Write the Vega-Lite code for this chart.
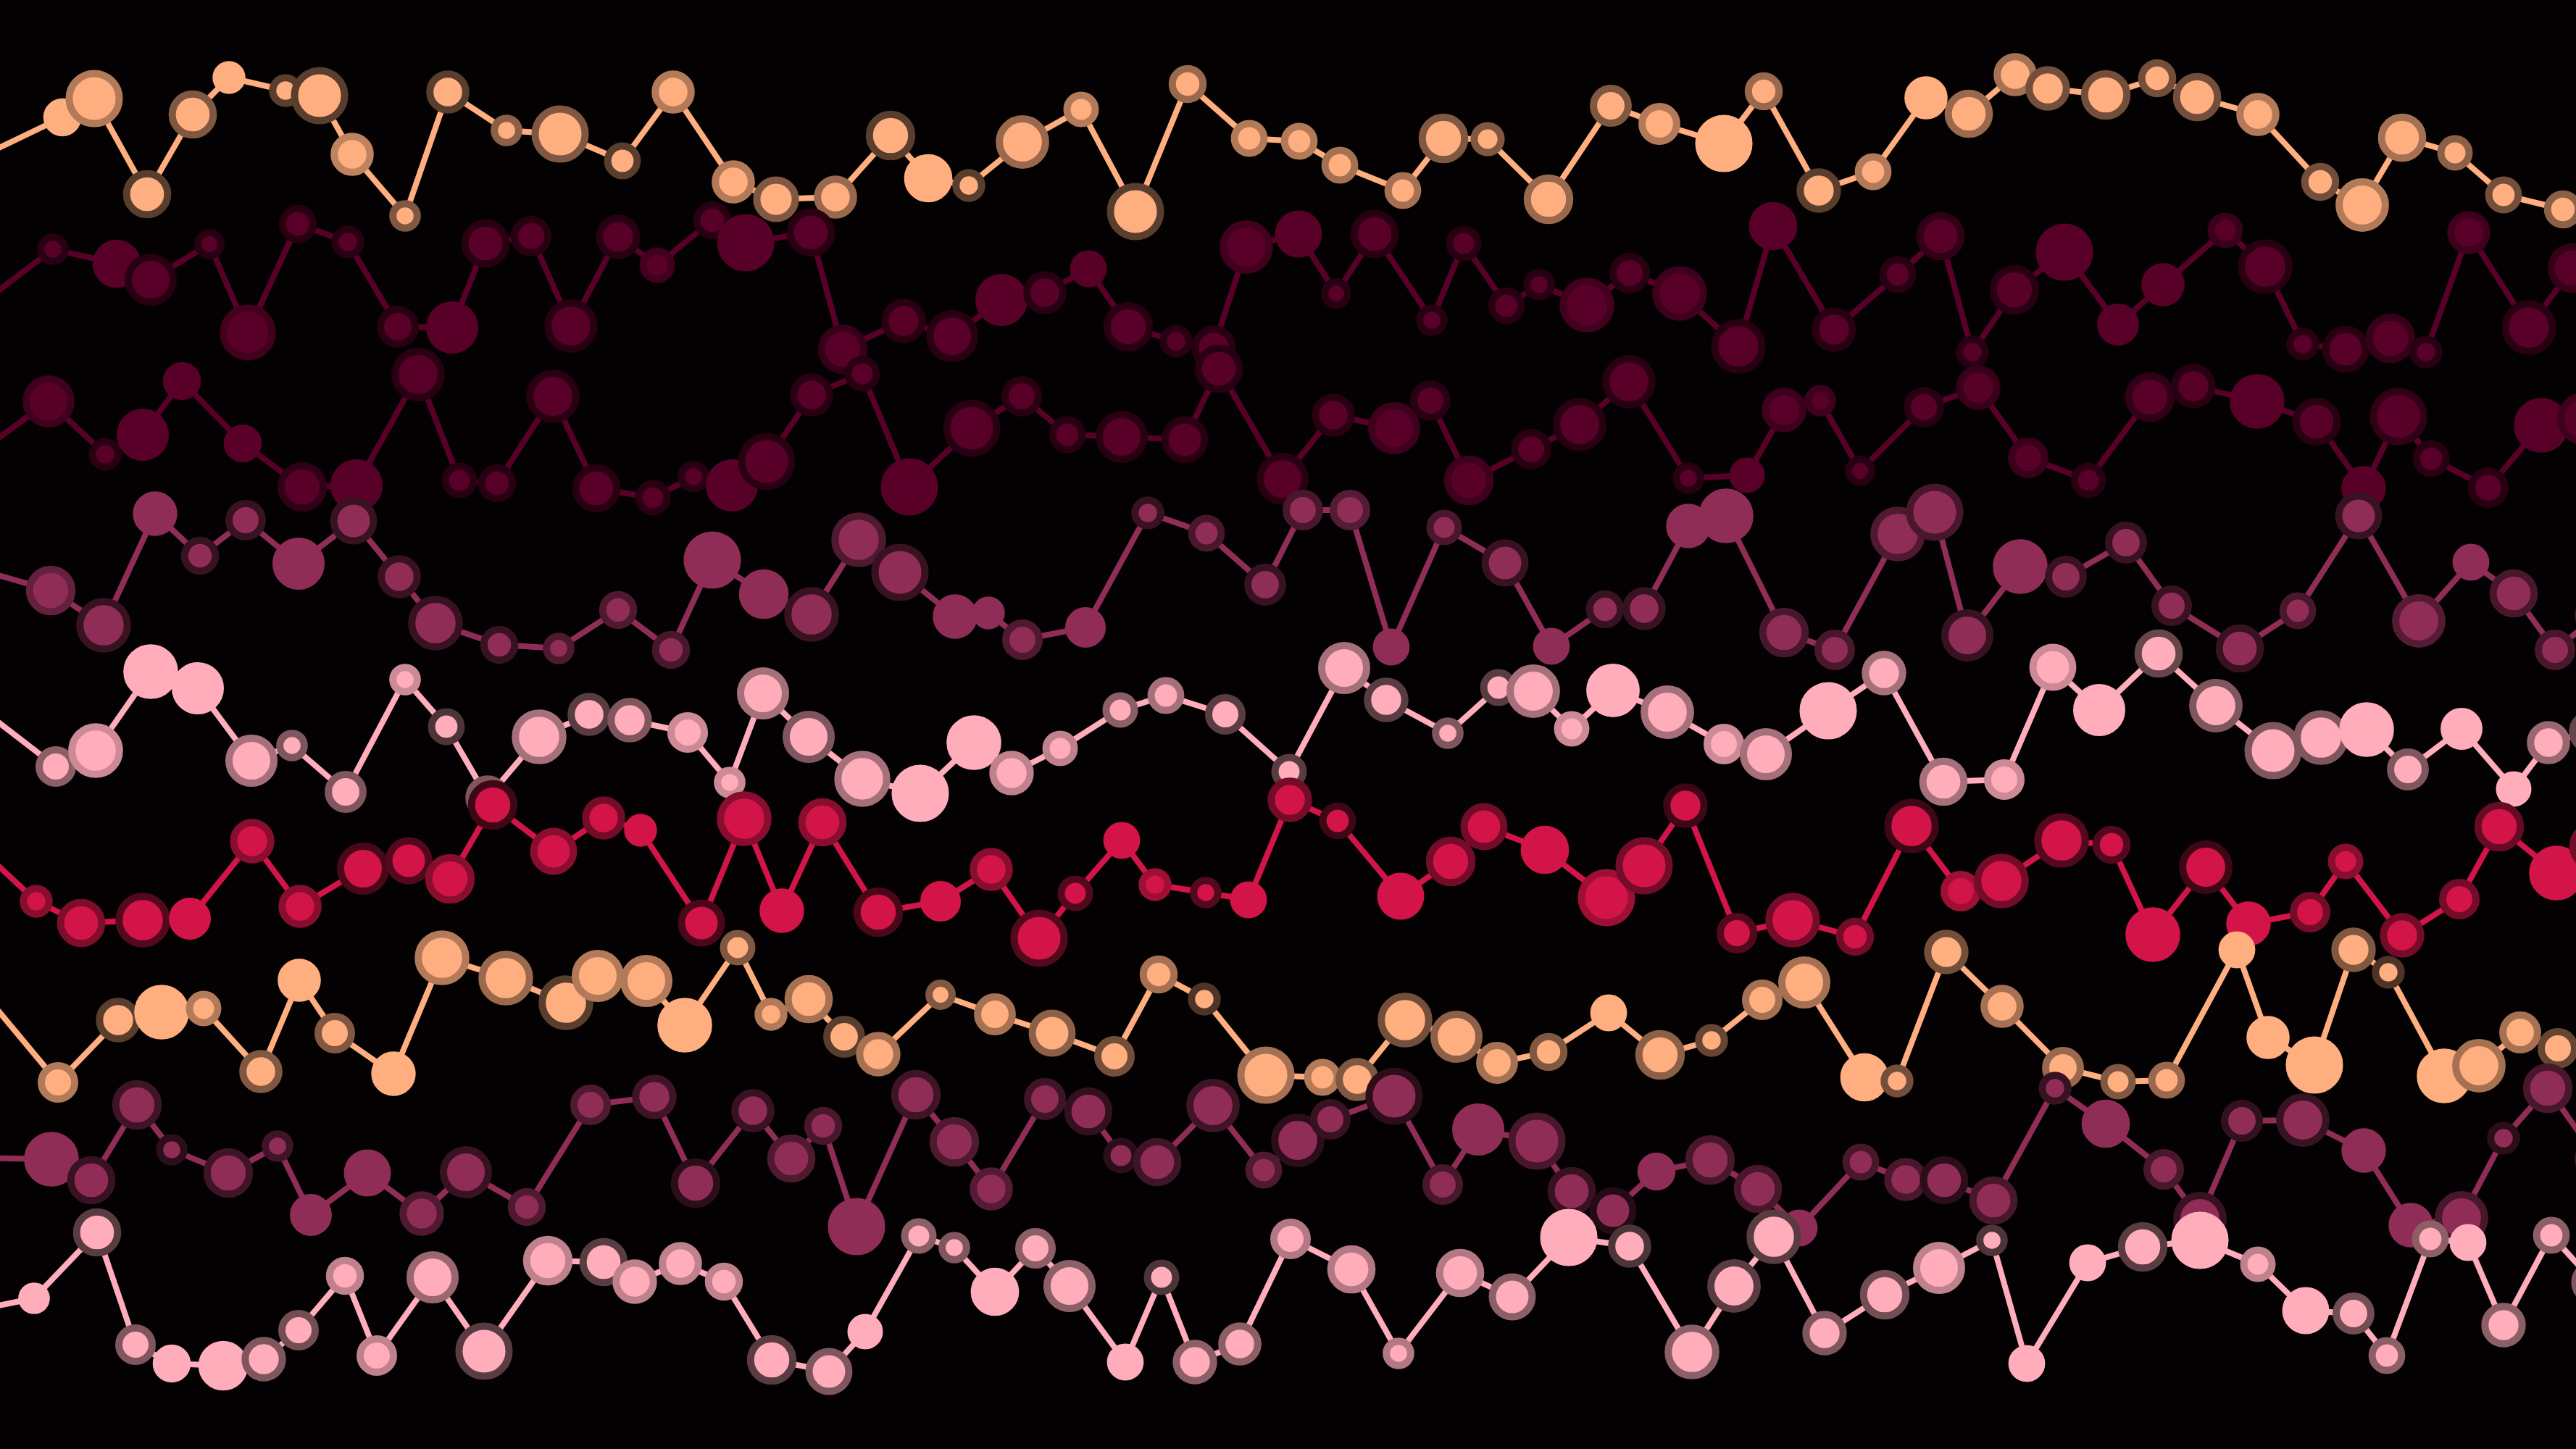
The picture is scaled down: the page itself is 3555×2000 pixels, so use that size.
{
"$schema":"https://vega.github.io/schema/vega-lite/v6.json",
"width":3555,"height":2000,"padding":0,
"autosize":{"type":"none"},
"background":"#030102",
"config":{"view":{"stroke":null}},
"data":{"values":[
{"s":1,"x":-45,"y":225,"r":30,"k":0},{"s":1,"x":86,"y":162,"r":24,"k":0},{"s":1,"x":130,"y":136,"r":39,"k":0.3},{"s":1,"x":203,"y":268,"r":32,"k":0.65},{"s":1,"x":266,"y":158,"r":32,"k":0.5},{"s":1,"x":316,"y":107,"r":20,"k":0},{"s":1,"x":394,"y":125,"r":20,"k":0.65},{"s":1,"x":441,"y":132,"r":39,"k":0.65},{"s":1,"x":486,"y":213,"r":28,"k":0.25},{"s":1,"x":559,"y":298,"r":19,"k":0.5},{"s":1,"x":618,"y":127,"r":28,"k":0.65},{"s":1,"x":699,"y":180,"r":19,"k":0.45},{"s":1,"x":773,"y":185,"r":39,"k":0.5},{"s":1,"x":859,"y":222,"r":23,"k":0.65},{"s":1,"x":929,"y":127,"r":28,"k":0.3},{"s":1,"x":1012,"y":251,"r":28,"k":0.3},{"s":1,"x":1071,"y":275,"r":30,"k":0.5},{"s":1,"x":1153,"y":272,"r":28,"k":0.4},{"s":1,"x":1229,"y":187,"r":33,"k":0.65},{"s":1,"x":1281,"y":246,"r":32,"k":0},{"s":1,"x":1337,"y":256,"r":20,"k":0.65},{"s":1,"x":1411,"y":196,"r":36,"k":0.4},{"s":1,"x":1492,"y":151,"r":22,"k":0.3},{"s":1,"x":1567,"y":292,"r":39,"k":0.65},{"s":1,"x":1639,"y":116,"r":24,"k":0.4},{"s":1,"x":1724,"y":191,"r":23,"k":0.3},{"s":1,"x":1793,"y":195,"r":23,"k":0.3},{"s":1,"x":1849,"y":228,"r":23,"k":0.35},{"s":1,"x":1936,"y":263,"r":23,"k":0.35},{"s":1,"x":1992,"y":191,"r":33,"k":0.5},{"s":1,"x":2053,"y":192,"r":21,"k":0.5},{"s":1,"x":2137,"y":275,"r":33,"k":0.4},{"s":1,"x":2223,"y":146,"r":27,"k":0.5},{"s":1,"x":2290,"y":171,"r":27,"k":0.3},{"s":1,"x":2379,"y":198,"r":39,"k":0},{"s":1,"x":2434,"y":126,"r":24,"k":0.4},{"s":1,"x":2510,"y":263,"r":29,"k":0.65},{"s":1,"x":2585,"y":237,"r":23,"k":0.3},{"s":1,"x":2658,"y":135,"r":28,"k":0},{"s":1,"x":2717,"y":157,"r":32,"k":0.4},{"s":1,"x":2781,"y":103,"r":28,"k":0.35},{"s":1,"x":2826,"y":122,"r":29,"k":0.55},{"s":1,"x":2906,"y":131,"r":33,"k":0.55},{"s":1,"x":2977,"y":108,"r":24,"k":0.55},{"s":1,"x":3032,"y":134,"r":32,"k":0.55},{"s":1,"x":3116,"y":158,"r":28,"k":0.3},{"s":1,"x":3202,"y":251,"r":24,"k":0.55},{"s":1,"x":3260,"y":283,"r":36,"k":0.3},{"s":1,"x":3315,"y":190,"r":32,"k":0.35},{"s":1,"x":3388,"y":211,"r":22,"k":0.45},{"s":1,"x":3455,"y":269,"r":23,"k":0.55},{"s":1,"x":3537,"y":289,"r":24,"k":0.45},
{"s":2,"x":-40,"y":430,"r":30,"k":0},{"s":2,"x":73,"y":344,"r":19,"k":0.55},{"s":2,"x":161,"y":364,"r":32,"k":0},{"s":2,"x":208,"y":386,"r":35,"k":0.55},{"s":2,"x":289,"y":337,"r":18,"k":0.55},{"s":2,"x":342,"y":459,"r":38,"k":0.25},{"s":2,"x":411,"y":309,"r":24,"k":0.55},{"s":2,"x":480,"y":334,"r":20,"k":0.55},{"s":2,"x":549,"y":451,"r":27,"k":0.55},{"s":2,"x":624,"y":452,"r":35,"k":0},{"s":2,"x":670,"y":336,"r":32,"k":0.55},{"s":2,"x":733,"y":326,"r":26,"k":0.55},{"s":2,"x":788,"y":450,"r":36,"k":0.55},{"s":2,"x":853,"y":327,"r":29,"k":0.55},{"s":2,"x":907,"y":366,"r":22,"k":0.25},{"s":2,"x":983,"y":304,"r":24,"k":0.55},{"s":2,"x":1029,"y":335,"r":39,"k":0},{"s":2,"x":1119,"y":321,"r":32,"k":0.55},{"s":2,"x":1163,"y":482,"r":33,"k":0.4},{"s":2,"x":1247,"y":443,"r":29,"k":0.55},{"s":2,"x":1314,"y":464,"r":35,"k":0.55},{"s":2,"x":1382,"y":414,"r":35,"k":0},{"s":2,"x":1442,"y":404,"r":28,"k":0.55},{"s":2,"x":1502,"y":371,"r":23,"k":0},{"s":2,"x":1557,"y":451,"r":33,"k":0.55},{"s":2,"x":1623,"y":471,"r":20,"k":0.55},{"s":2,"x":1675,"y":480,"r":29,"k":0.55},{"s":2,"x":1720,"y":341,"r":36,"k":0.25},{"s":2,"x":1792,"y":323,"r":31,"k":0},{"s":2,"x":1844,"y":405,"r":18,"k":0.55},{"s":2,"x":1897,"y":323,"r":32,"k":0.55},{"s":2,"x":1976,"y":442,"r":19,"k":0.55},{"s":2,"x":2020,"y":336,"r":22,"k":0.55},{"s":2,"x":2079,"y":422,"r":23,"k":0.55},{"s":2,"x":2124,"y":393,"r":19,"k":0.55},{"s":2,"x":2190,"y":421,"r":37,"k":0.25},{"s":2,"x":2249,"y":377,"r":26,"k":0.55},{"s":2,"x":2318,"y":405,"r":37,"k":0.3},{"s":2,"x":2399,"y":478,"r":37,"k":0.55},{"s":2,"x":2447,"y":312,"r":32,"k":0},{"s":2,"x":2531,"y":455,"r":29,"k":0.55},{"s":2,"x":2619,"y":379,"r":23,"k":0.55},{"s":2,"x":2678,"y":326,"r":32,"k":0.45},{"s":2,"x":2722,"y":486,"r":20,"k":0.55},{"s":2,"x":2780,"y":400,"r":33,"k":0.55},{"s":2,"x":2849,"y":348,"r":39,"k":0},{"s":2,"x":2923,"y":448,"r":27,"k":0},{"s":2,"x":2985,"y":393,"r":28,"k":0},{"s":2,"x":3071,"y":318,"r":22,"k":0.35},{"s":2,"x":3126,"y":368,"r":37,"k":0.55},{"s":2,"x":3178,"y":475,"r":20,"k":0.55},{"s":2,"x":3237,"y":482,"r":31,"k":0.55},{"s":2,"x":3299,"y":467,"r":33,"k":0.4},{"s":2,"x":3348,"y":486,"r":20,"k":0.55},{"s":2,"x":3407,"y":321,"r":28,"k":0.3},{"s":2,"x":3490,"y":452,"r":37,"k":0.55},{"s":2,"x":3550,"y":370,"r":33,"k":0.4},
{"s":3,"x":-50,"y":640,"r":30,"k":0},{"s":3,"x":67,"y":554,"r":35,"k":0.3},{"s":3,"x":145,"y":627,"r":20,"k":0.55},{"s":3,"x":197,"y":600,"r":35,"k":0},{"s":3,"x":251,"y":526,"r":24,"k":0},{"s":3,"x":335,"y":612,"r":24,"k":0},{"s":3,"x":417,"y":672,"r":33,"k":0.45},{"s":3,"x":492,"y":670,"r":35,"k":0},{"s":3,"x":577,"y":517,"r":36,"k":0.55},{"s":3,"x":634,"y":663,"r":22,"k":0.55},{"s":3,"x":686,"y":667,"r":24,"k":0.55},{"s":3,"x":763,"y":547,"r":36,"k":0.55},{"s":3,"x":823,"y":674,"r":32,"k":0.55},{"s":3,"x":901,"y":687,"r":22,"k":0.55},{"s":3,"x":957,"y":658,"r":19,"k":0.55},{"s":3,"x":1010,"y":670,"r":35,"k":0},{"s":3,"x":1058,"y":637,"r":39,"k":0.55},{"s":3,"x":1120,"y":545,"r":28,"k":0.55},{"s":3,"x":1190,"y":516,"r":22,"k":0.55},{"s":3,"x":1255,"y":672,"r":39,"k":0},{"s":3,"x":1341,"y":591,"r":39,"k":0.55},{"s":3,"x":1410,"y":547,"r":26,"k":0.55},{"s":3,"x":1473,"y":600,"r":23,"k":0.55},{"s":3,"x":1548,"y":603,"r":35,"k":0.55},{"s":3,"x":1635,"y":607,"r":31,"k":0.55},{"s":3,"x":1682,"y":509,"r":32,"k":0.55},{"s":3,"x":1770,"y":661,"r":35,"k":0.55},{"s":3,"x":1840,"y":573,"r":28,"k":0.55},{"s":3,"x":1924,"y":591,"r":35,"k":0.3},{"s":3,"x":1974,"y":553,"r":26,"k":0.55},{"s":3,"x":2027,"y":663,"r":33,"k":0.3},{"s":3,"x":2113,"y":620,"r":26,"k":0.55},{"s":3,"x":2180,"y":586,"r":36,"k":0.55},{"s":3,"x":2248,"y":527,"r":36,"k":0.55},{"s":3,"x":2330,"y":660,"r":19,"k":0.55},{"s":3,"x":2411,"y":656,"r":22,"k":0},{"s":3,"x":2462,"y":566,"r":29,"k":0.3},{"s":3,"x":2512,"y":553,"r":19,"k":0.3},{"s":3,"x":2567,"y":650,"r":18,"k":0.55},{"s":3,"x":2655,"y":562,"r":26,"k":0.55},{"s":3,"x":2730,"y":535,"r":29,"k":0.35},{"s":3,"x":2799,"y":632,"r":26,"k":0.35},{"s":3,"x":2882,"y":663,"r":22,"k":0.55},{"s":3,"x":2967,"y":548,"r":33,"k":0.45},{"s":3,"x":3027,"y":533,"r":29,"k":0.55},{"s":3,"x":3115,"y":554,"r":37,"k":0},{"s":3,"x":3197,"y":582,"r":32,"k":0.55},{"s":3,"x":3262,"y":674,"r":29,"k":0},{"s":3,"x":3310,"y":575,"r":39,"k":0.45},{"s":3,"x":3355,"y":633,"r":23,"k":0.55},{"s":3,"x":3434,"y":673,"r":26,"k":0.55},{"s":3,"x":3507,"y":587,"r":37,"k":0},{"s":3,"x":3565,"y":578,"r":35,"k":0.3},
{"s":4,"x":-50,"y":780,"r":30,"k":0},{"s":4,"x":70,"y":815,"r":33,"k":0.3},{"s":4,"x":143,"y":863,"r":37,"k":0.6},{"s":4,"x":214,"y":709,"r":29,"k":0},{"s":4,"x":276,"y":767,"r":24,"k":0.6},{"s":4,"x":339,"y":718,"r":26,"k":0.6},{"s":4,"x":412,"y":778,"r":35,"k":0},{"s":4,"x":488,"y":719,"r":31,"k":0.6},{"s":4,"x":551,"y":796,"r":28,"k":0.6},{"s":4,"x":601,"y":860,"r":37,"k":0.6},{"s":4,"x":689,"y":890,"r":24,"k":0.6},{"s":4,"x":771,"y":895,"r":19,"k":0.45},{"s":4,"x":853,"y":842,"r":24,"k":0.45},{"s":4,"x":926,"y":897,"r":24,"k":0.5},{"s":4,"x":983,"y":773,"r":39,"k":0},{"s":4,"x":1054,"y":820,"r":33,"k":0},{"s":4,"x":1120,"y":848,"r":37,"k":0.6},{"s":4,"x":1185,"y":745,"r":37,"k":0.45},{"s":4,"x":1242,"y":790,"r":39,"k":0.6},{"s":4,"x":1318,"y":851,"r":29,"k":0},{"s":4,"x":1364,"y":846,"r":20,"k":0},{"s":4,"x":1411,"y":883,"r":26,"k":0.45},{"s":4,"x":1498,"y":866,"r":26,"k":0},{"s":4,"x":1584,"y":708,"r":20,"k":0.6},{"s":4,"x":1665,"y":736,"r":23,"k":0.5},{"s":4,"x":1746,"y":807,"r":27,"k":0.6},{"s":4,"x":1798,"y":704,"r":26,"k":0.5},{"s":4,"x":1863,"y":704,"r":26,"k":0.4},{"s":4,"x":1920,"y":893,"r":23,"k":0},{"s":4,"x":1993,"y":728,"r":22,"k":0.5},{"s":4,"x":2077,"y":777,"r":31,"k":0.6},{"s":4,"x":2141,"y":892,"r":23,"k":0},{"s":4,"x":2215,"y":841,"r":24,"k":0.6},{"s":4,"x":2269,"y":840,"r":28,"k":0.6},{"s":4,"x":2330,"y":726,"r":29,"k":0},{"s":4,"x":2382,"y":712,"r":37,"k":0},{"s":4,"x":2462,"y":873,"r":33,"k":0.5},{"s":4,"x":2532,"y":897,"r":26,"k":0.5},{"s":4,"x":2619,"y":737,"r":37,"k":0.45},{"s":4,"x":2670,"y":707,"r":39,"k":0.5},{"s":4,"x":2715,"y":877,"r":35,"k":0.6},{"s":4,"x":2788,"y":782,"r":37,"k":0},{"s":4,"x":2851,"y":796,"r":27,"k":0.6},{"s":4,"x":2934,"y":749,"r":27,"k":0.6},{"s":4,"x":2997,"y":836,"r":26,"k":0.6},{"s":4,"x":3091,"y":895,"r":32,"k":0.6},{"s":4,"x":3171,"y":843,"r":23,"k":0.5},{"s":4,"x":3255,"y":712,"r":31,"k":0.6},{"s":4,"x":3338,"y":857,"r":36,"k":0.4},{"s":4,"x":3410,"y":776,"r":23,"k":0},{"s":4,"x":3469,"y":819,"r":32,"k":0.5},{"s":4,"x":3526,"y":897,"r":26,"k":0.5},{"s":4,"x":3585,"y":850,"r":30,"k":0.5},
{"s":5,"x":-50,"y":960,"r":30,"k":0},{"s":5,"x":77,"y":1058,"r":26,"k":0.45},{"s":5,"x":132,"y":1036,"r":37,"k":0.2},{"s":5,"x":208,"y":927,"r":37,"k":0},{"s":5,"x":273,"y":950,"r":35,"k":0},{"s":5,"x":347,"y":1050,"r":35,"k":0.35},{"s":5,"x":403,"y":1029,"r":19,"k":0.5},{"s":5,"x":477,"y":1093,"r":27,"k":0.5},{"s":5,"x":559,"y":938,"r":19,"k":0.2},{"s":5,"x":616,"y":1003,"r":23,"k":0.7},{"s":5,"x":673,"y":1101,"r":29,"k":0.5},{"s":5,"x":744,"y":1017,"r":37,"k":0.35},{"s":5,"x":813,"y":986,"r":28,"k":0.65},{"s":5,"x":869,"y":994,"r":29,"k":0.5},{"s":5,"x":949,"y":1011,"r":26,"k":0.2},{"s":5,"x":1007,"y":1080,"r":19,"k":0.2},{"s":5,"x":1053,"y":957,"r":35,"k":0.35},{"s":5,"x":1116,"y":1017,"r":35,"k":0.5},{"s":5,"x":1190,"y":1075,"r":38,"k":0.35},{"s":5,"x":1270,"y":1095,"r":39,"k":0},{"s":5,"x":1344,"y":1025,"r":37,"k":0},{"s":5,"x":1396,"y":1067,"r":29,"k":0.25},{"s":5,"x":1463,"y":1033,"r":22,"k":0.25},{"s":5,"x":1546,"y":980,"r":22,"k":0.45},{"s":5,"x":1609,"y":960,"r":23,"k":0.35},{"s":5,"x":1691,"y":986,"r":26,"k":0.65},{"s":5,"x":1779,"y":1065,"r":22,"k":0.65},{"s":5,"x":1855,"y":922,"r":35,"k":0.35},{"s":5,"x":1913,"y":966,"r":29,"k":0.65},{"s":5,"x":1998,"y":1012,"r":19,"k":0.5},{"s":5,"x":2068,"y":949,"r":23,"k":0.65},{"s":5,"x":2116,"y":954,"r":36,"k":0.35},{"s":5,"x":2169,"y":1006,"r":22,"k":0.2},{"s":5,"x":2226,"y":953,"r":36,"k":0},{"s":5,"x":2301,"y":983,"r":36,"k":0.35},{"s":5,"x":2379,"y":1027,"r":26,"k":0.2},{"s":5,"x":2437,"y":1041,"r":35,"k":0.35},{"s":5,"x":2523,"y":981,"r":39,"k":0},{"s":5,"x":2600,"y":929,"r":29,"k":0.35},{"s":5,"x":2682,"y":1079,"r":32,"k":0.35},{"s":5,"x":2766,"y":1076,"r":26,"k":0.2},{"s":5,"x":2833,"y":921,"r":31,"k":0.2},{"s":5,"x":2897,"y":980,"r":35,"k":0},{"s":5,"x":2979,"y":902,"r":32,"k":0.6},{"s":5,"x":3058,"y":974,"r":36,"k":0.5},{"s":5,"x":3137,"y":1036,"r":39,"k":0.5},{"s":5,"x":3203,"y":1018,"r":37,"k":0.5},{"s":5,"x":3266,"y":1007,"r":37,"k":0},{"s":5,"x":3323,"y":1062,"r":27,"k":0.5},{"s":5,"x":3397,"y":1006,"r":27,"k":0},{"s":5,"x":3469,"y":1089,"r":22,"k":0},{"s":5,"x":3517,"y":1025,"r":28,"k":0.4},{"s":5,"x":3575,"y":1010,"r":28,"k":0.6},
{"s":6,"x":-40,"y":1160,"r":30,"k":0},{"s":6,"x":50,"y":1244,"r":20,"k":0.35},{"s":6,"x":112,"y":1274,"r":32,"k":0.4},{"s":6,"x":197,"y":1270,"r":37,"k":0.6},{"s":6,"x":262,"y":1268,"r":27,"k":0},{"s":6,"x":348,"y":1161,"r":29,"k":0.35},{"s":6,"x":414,"y":1251,"r":28,"k":0.35},{"s":6,"x":501,"y":1199,"r":35,"k":0.65},{"s":6,"x":564,"y":1188,"r":31,"k":0.6},{"s":6,"x":621,"y":1213,"r":33,"k":0.35},{"s":6,"x":680,"y":1111,"r":33,"k":0.7},{"s":6,"x":764,"y":1175,"r":31,"k":0.35},{"s":6,"x":833,"y":1129,"r":28,"k":0.45},{"s":6,"x":884,"y":1146,"r":20,"k":0},{"s":6,"x":968,"y":1274,"r":31,"k":0.65},{"s":6,"x":1027,"y":1130,"r":37,"k":0.35},{"s":6,"x":1079,"y":1257,"r":29,"k":0},{"s":6,"x":1135,"y":1135,"r":32,"k":0.35},{"s":6,"x":1212,"y":1259,"r":33,"k":0.65},{"s":6,"x":1298,"y":1244,"r":26,"k":0},{"s":6,"x":1368,"y":1200,"r":28,"k":0.35},{"s":6,"x":1434,"y":1295,"r":39,"k":0.6},{"s":6,"x":1484,"y":1233,"r":22,"k":0.6},{"s":6,"x":1548,"y":1160,"r":23,"k":0},{"s":6,"x":1594,"y":1221,"r":20,"k":0.25},{"s":6,"x":1664,"y":1232,"r":19,"k":0.6},{"s":6,"x":1723,"y":1242,"r":23,"k":0},{"s":6,"x":1780,"y":1104,"r":29,"k":0.45},{"s":6,"x":1846,"y":1133,"r":23,"k":0.7},{"s":6,"x":1933,"y":1237,"r":31,"k":0},{"s":6,"x":2002,"y":1189,"r":33,"k":0.45},{"s":6,"x":2048,"y":1141,"r":31,"k":0.45},{"s":6,"x":2132,"y":1173,"r":32,"k":0},{"s":6,"x":2217,"y":1239,"r":39,"k":0.25},{"s":6,"x":2269,"y":1195,"r":39,"k":0.45},{"s":6,"x":2326,"y":1112,"r":29,"k":0.7},{"s":6,"x":2397,"y":1288,"r":26,"k":0.6},{"s":6,"x":2474,"y":1270,"r":37,"k":0.45},{"s":6,"x":2560,"y":1293,"r":24,"k":0.45},{"s":6,"x":2638,"y":1140,"r":37,"k":0.7},{"s":6,"x":2706,"y":1230,"r":26,"k":0.25},{"s":6,"x":2762,"y":1216,"r":37,"k":0.45},{"s":6,"x":2845,"y":1160,"r":37,"k":0.6},{"s":6,"x":2914,"y":1166,"r":24,"k":0.6},{"s":6,"x":2971,"y":1290,"r":37,"k":0},{"s":6,"x":3044,"y":1197,"r":36,"k":0.7},{"s":6,"x":3103,"y":1275,"r":29,"k":0},{"s":6,"x":3188,"y":1259,"r":26,"k":0.45},{"s":6,"x":3237,"y":1189,"r":22,"k":0.35},{"s":6,"x":3315,"y":1291,"r":29,"k":0.45},{"s":6,"x":3394,"y":1241,"r":26,"k":0.45},{"s":6,"x":3449,"y":1141,"r":33,"k":0.5},{"s":6,"x":3528,"y":1205,"r":37,"k":0},{"s":6,"x":3580,"y":1168,"r":33,"k":0.45},
{"s":7,"x":-40,"y":1350,"r":30,"k":0},{"s":7,"x":80,"y":1494,"r":26,"k":0.3},{"s":7,"x":163,"y":1408,"r":29,"k":0.65},{"s":7,"x":223,"y":1397,"r":37,"k":0},{"s":7,"x":281,"y":1392,"r":22,"k":0.3},{"s":7,"x":360,"y":1479,"r":28,"k":0.5},{"s":7,"x":413,"y":1353,"r":28,"k":0},{"s":7,"x":462,"y":1426,"r":26,"k":0.5},{"s":7,"x":543,"y":1482,"r":29,"k":0},{"s":7,"x":610,"y":1322,"r":37,"k":0.3},{"s":7,"x":698,"y":1350,"r":37,"k":0.4},{"s":7,"x":781,"y":1384,"r":37,"k":0.65},{"s":7,"x":825,"y":1347,"r":35,"k":0.3},{"s":7,"x":892,"y":1354,"r":35,"k":0.3},{"s":7,"x":945,"y":1415,"r":37,"k":0},{"s":7,"x":1018,"y":1308,"r":22,"k":0.5},{"s":7,"x":1064,"y":1400,"r":20,"k":0.3},{"s":7,"x":1116,"y":1379,"r":32,"k":0.35},{"s":7,"x":1165,"y":1431,"r":27,"k":0.65},{"s":7,"x":1212,"y":1455,"r":29,"k":0.35},{"s":7,"x":1298,"y":1373,"r":18,"k":0.5},{"s":7,"x":1373,"y":1400,"r":27,"k":0.35},{"s":7,"x":1452,"y":1426,"r":31,"k":0.45},{"s":7,"x":1538,"y":1458,"r":26,"k":0.55},{"s":7,"x":1599,"y":1345,"r":24,"k":0.35},{"s":7,"x":1662,"y":1379,"r":20,"k":0.7},{"s":7,"x":1747,"y":1484,"r":39,"k":0.35},{"s":7,"x":1825,"y":1487,"r":23,"k":0.3},{"s":7,"x":1873,"y":1490,"r":28,"k":0.5},{"s":7,"x":1939,"y":1408,"r":37,"k":0.55},{"s":7,"x":2010,"y":1431,"r":35,"k":0.45},{"s":7,"x":2066,"y":1467,"r":27,"k":0.35},{"s":7,"x":2137,"y":1452,"r":24,"k":0.5},{"s":7,"x":2220,"y":1398,"r":23,"k":0},{"s":7,"x":2291,"y":1456,"r":33,"k":0.45},{"s":7,"x":2362,"y":1436,"r":20,"k":0.6},{"s":7,"x":2432,"y":1380,"r":26,"k":0.35},{"s":7,"x":2490,"y":1356,"r":35,"k":0.35},{"s":7,"x":2573,"y":1487,"r":32,"k":0},{"s":7,"x":2618,"y":1492,"r":20,"k":0.55},{"s":7,"x":2686,"y":1314,"r":29,"k":0.55},{"s":7,"x":2763,"y":1389,"r":28,"k":0.35},{"s":7,"x":2847,"y":1474,"r":27,"k":0.4},{"s":7,"x":2923,"y":1493,"r":22,"k":0.5},{"s":7,"x":2990,"y":1491,"r":23,"k":0.4},{"s":7,"x":3087,"y":1311,"r":23,"k":0},{"s":7,"x":3130,"y":1432,"r":28,"k":0},{"s":7,"x":3194,"y":1470,"r":39,"k":0},{"s":7,"x":3248,"y":1311,"r":29,"k":0.5},{"s":7,"x":3296,"y":1342,"r":20,"k":0.7},{"s":7,"x":3373,"y":1485,"r":37,"k":0},{"s":7,"x":3421,"y":1471,"r":36,"k":0.35},{"s":7,"x":3478,"y":1425,"r":27,"k":0.35},{"s":7,"x":3530,"y":1447,"r":26,"k":0.6},
{"s":8,"x":-50,"y":1598,"r":30,"k":0},{"s":8,"x":71,"y":1600,"r":37,"k":0},{"s":8,"x":126,"y":1629,"r":32,"k":0.6},{"s":8,"x":189,"y":1525,"r":33,"k":0.55},{"s":8,"x":237,"y":1587,"r":19,"k":0.7},{"s":8,"x":315,"y":1619,"r":33,"k":0.55},{"s":8,"x":383,"y":1582,"r":19,"k":0.55},{"s":8,"x":429,"y":1677,"r":27,"k":0},{"s":8,"x":507,"y":1619,"r":31,"k":0},{"s":8,"x":582,"y":1675,"r":29,"k":0.45},{"s":8,"x":643,"y":1618,"r":35,"k":0.6},{"s":8,"x":727,"y":1666,"r":24,"k":0.45},{"s":8,"x":815,"y":1525,"r":26,"k":0.45},{"s":8,"x":903,"y":1514,"r":29,"k":0.55},{"s":8,"x":960,"y":1633,"r":33,"k":0.7},{"s":8,"x":1039,"y":1533,"r":28,"k":0.6},{"s":8,"x":1092,"y":1599,"r":32,"k":0.45},{"s":8,"x":1136,"y":1554,"r":24,"k":0.5},{"s":8,"x":1182,"y":1693,"r":39,"k":0},{"s":8,"x":1264,"y":1511,"r":33,"k":0.55},{"s":8,"x":1317,"y":1576,"r":33,"k":0.45},{"s":8,"x":1368,"y":1641,"r":28,"k":0.4},{"s":8,"x":1442,"y":1517,"r":27,"k":0.55},{"s":8,"x":1502,"y":1534,"r":32,"k":0.65},{"s":8,"x":1547,"y":1595,"r":22,"k":0.7},{"s":8,"x":1597,"y":1604,"r":32,"k":0.55},{"s":8,"x":1674,"y":1526,"r":36,"k":0.55},{"s":8,"x":1744,"y":1615,"r":23,"k":0.45},{"s":8,"x":1791,"y":1574,"r":36,"k":0.7},{"s":8,"x":1836,"y":1545,"r":26,"k":0.6},{"s":8,"x":1924,"y":1513,"r":39,"k":0.7},{"s":8,"x":1991,"y":1635,"r":26,"k":0.5},{"s":8,"x":2040,"y":1559,"r":35,"k":0},{"s":8,"x":2121,"y":1575,"r":39,"k":0.5},{"s":8,"x":2169,"y":1644,"r":32,"k":0.6},{"s":8,"x":2226,"y":1671,"r":31,"k":0.75},{"s":8,"x":2286,"y":1617,"r":24,"k":0},{"s":8,"x":2360,"y":1601,"r":33,"k":0.5},{"s":8,"x":2426,"y":1641,"r":32,"k":0.5},{"s":8,"x":2483,"y":1695,"r":23,"k":0},{"s":8,"x":2568,"y":1604,"r":23,"k":0.5},{"s":8,"x":2630,"y":1628,"r":28,"k":0.5},{"s":8,"x":2683,"y":1629,"r":32,"k":0.7},{"s":8,"x":2751,"y":1657,"r":32,"k":0.5},{"s":8,"x":2836,"y":1502,"r":20,"k":0.6},{"s":8,"x":2906,"y":1551,"r":32,"k":0},{"s":8,"x":2986,"y":1614,"r":26,"k":0.5},{"s":8,"x":3036,"y":1682,"r":36,"k":0.6},{"s":8,"x":3094,"y":1547,"r":27,"k":0.65},{"s":8,"x":3178,"y":1546,"r":36,"k":0.6},{"s":8,"x":3262,"y":1588,"r":29,"k":0},{"s":8,"x":3327,"y":1691,"r":29,"k":0},{"s":8,"x":3397,"y":1681,"r":36,"k":0.5},{"s":8,"x":3455,"y":1571,"r":20,"k":0.7},{"s":8,"x":3516,"y":1502,"r":33,"k":0.5},{"s":8,"x":3585,"y":1600,"r":30,"k":0.5},
{"s":9,"x":-50,"y":1812,"r":30,"k":0},{"s":9,"x":47,"y":1792,"r":19,"k":0},{"s":9,"x":134,"y":1701,"r":32,"k":0.65},{"s":9,"x":187,"y":1856,"r":26,"k":0.5},{"s":9,"x":237,"y":1882,"r":24,"k":0},{"s":9,"x":308,"y":1885,"r":33,"k":0},{"s":9,"x":364,"y":1876,"r":29,"k":0.5},{"s":9,"x":412,"y":1836,"r":26,"k":0.55},{"s":9,"x":476,"y":1761,"r":24,"k":0.25},{"s":9,"x":520,"y":1871,"r":26,"k":0.25},{"s":9,"x":597,"y":1763,"r":35,"k":0.4},{"s":9,"x":668,"y":1865,"r":39,"k":0.65},{"s":9,"x":756,"y":1740,"r":33,"k":0.25},{"s":9,"x":833,"y":1742,"r":32,"k":0.65},{"s":9,"x":876,"y":1769,"r":29,"k":0.25},{"s":9,"x":939,"y":1744,"r":28,"k":0.25},{"s":9,"x":999,"y":1769,"r":24,"k":0.25},{"s":9,"x":1065,"y":1877,"r":33,"k":0.65},{"s":9,"x":1144,"y":1893,"r":31,"k":0.5},{"s":9,"x":1194,"y":1838,"r":22,"k":0},{"s":9,"x":1268,"y":1706,"r":22,"k":0.45},{"s":9,"x":1317,"y":1722,"r":19,"k":0.5},{"s":9,"x":1373,"y":1783,"r":32,"k":0},{"s":9,"x":1429,"y":1723,"r":26,"k":0.45},{"s":9,"x":1476,"y":1775,"r":35,"k":0.45},{"s":9,"x":1553,"y":1880,"r":23,"k":0},{"s":9,"x":1603,"y":1763,"r":22,"k":0.7},{"s":9,"x":1649,"y":1880,"r":29,"k":0.45},{"s":9,"x":1711,"y":1855,"r":28,"k":0.45},{"s":9,"x":1781,"y":1710,"r":26,"k":0.3},{"s":9,"x":1865,"y":1752,"r":32,"k":0.3},{"s":9,"x":1930,"y":1868,"r":19,"k":0.3},{"s":9,"x":2015,"y":1757,"r":32,"k":0.3},{"s":9,"x":2087,"y":1790,"r":31,"k":0.45},{"s":9,"x":2165,"y":1708,"r":39,"k":0},{"s":9,"x":2249,"y":1720,"r":28,"k":0.7},{"s":9,"x":2335,"y":1866,"r":37,"k":0.45},{"s":9,"x":2393,"y":1775,"r":36,"k":0.65},{"s":9,"x":2448,"y":1707,"r":37,"k":0.65},{"s":9,"x":2518,"y":1840,"r":29,"k":0.5},{"s":9,"x":2601,"y":1787,"r":33,"k":0.55},{"s":9,"x":2676,"y":1750,"r":35,"k":0.25},{"s":9,"x":2749,"y":1712,"r":19,"k":0.7},{"s":9,"x":2797,"y":1882,"r":23,"k":0},{"s":9,"x":2881,"y":1743,"r":23,"k":0},{"s":9,"x":2957,"y":1721,"r":33,"k":0.65},{"s":9,"x":3036,"y":1712,"r":39,"k":0},{"s":9,"x":3116,"y":1745,"r":22,"k":0.25},{"s":9,"x":3182,"y":1809,"r":31,"k":0},{"s":9,"x":3248,"y":1813,"r":27,"k":0.55},{"s":9,"x":3294,"y":1871,"r":23,"k":0.45},{"s":9,"x":3354,"y":1710,"r":23,"k":0.45},{"s":9,"x":3406,"y":1715,"r":23,"k":0},{"s":9,"x":3455,"y":1829,"r":29,"k":0.45},{"s":9,"x":3521,"y":1705,"r":23,"k":0.45},{"s":9,"x":3580,"y":1770,"r":30,"k":0.5}
]},
"encoding":{
"x":{"field":"x","type":"quantitative","scale":{"domain":[0,3555],"nice":false,"zero":false},"axis":null},
"y":{"field":"y","type":"quantitative","scale":{"domain":[0,2000],"reverse":true,"nice":false,"zero":false},"axis":null}
},
"layer":[
{"transform":[{"filter":"datum.s==1"}],"mark":{"type":"line","color":"#ffae80","strokeWidth":8},"encoding":{}},
{"transform":[{"filter":"datum.s==1"}],"mark":{"type":"point","shape":"circle","filled":true,"fill":"#ffae80","opacity":1,"strokeWidth":10},"encoding":{"size":{"field":"r","type":"quantitative","scale":{"type":"pow","exponent":2,"domain":[0,45],"range":[0,6362]},"legend":null},"stroke":{"field":"k","type":"quantitative","scale":{"domain":[0,1],"range":["#ffae80","#000000"],"interpolate":"rgb"},"legend":null}}},
{"transform":[{"filter":"datum.s==2"}],"mark":{"type":"line","color":"#590028","strokeWidth":8},"encoding":{}},
{"transform":[{"filter":"datum.s==2"}],"mark":{"type":"point","shape":"circle","filled":true,"fill":"#590028","opacity":1,"strokeWidth":10},"encoding":{"size":{"field":"r","type":"quantitative","scale":{"type":"pow","exponent":2,"domain":[0,45],"range":[0,6362]},"legend":null},"stroke":{"field":"k","type":"quantitative","scale":{"domain":[0,1],"range":["#590028","#000000"],"interpolate":"rgb"},"legend":null}}},
{"transform":[{"filter":"datum.s==3"}],"mark":{"type":"line","color":"#590028","strokeWidth":8},"encoding":{}},
{"transform":[{"filter":"datum.s==3"}],"mark":{"type":"point","shape":"circle","filled":true,"fill":"#590028","opacity":1,"strokeWidth":10},"encoding":{"size":{"field":"r","type":"quantitative","scale":{"type":"pow","exponent":2,"domain":[0,45],"range":[0,6362]},"legend":null},"stroke":{"field":"k","type":"quantitative","scale":{"domain":[0,1],"range":["#590028","#000000"],"interpolate":"rgb"},"legend":null}}},
{"transform":[{"filter":"datum.s==4"}],"mark":{"type":"line","color":"#8f2d56","strokeWidth":8},"encoding":{}},
{"transform":[{"filter":"datum.s==4"}],"mark":{"type":"point","shape":"circle","filled":true,"fill":"#8f2d56","opacity":1,"strokeWidth":10},"encoding":{"size":{"field":"r","type":"quantitative","scale":{"type":"pow","exponent":2,"domain":[0,45],"range":[0,6362]},"legend":null},"stroke":{"field":"k","type":"quantitative","scale":{"domain":[0,1],"range":["#8f2d56","#000000"],"interpolate":"rgb"},"legend":null}}},
{"transform":[{"filter":"datum.s==5"}],"mark":{"type":"line","color":"#ffacbb","strokeWidth":8},"encoding":{}},
{"transform":[{"filter":"datum.s==5"}],"mark":{"type":"point","shape":"circle","filled":true,"fill":"#ffacbb","opacity":1,"strokeWidth":10},"encoding":{"size":{"field":"r","type":"quantitative","scale":{"type":"pow","exponent":2,"domain":[0,45],"range":[0,6362]},"legend":null},"stroke":{"field":"k","type":"quantitative","scale":{"domain":[0,1],"range":["#ffacbb","#000000"],"interpolate":"rgb"},"legend":null}}},
{"transform":[{"filter":"datum.s==6"}],"mark":{"type":"line","color":"#d21448","strokeWidth":8},"encoding":{}},
{"transform":[{"filter":"datum.s==6"}],"mark":{"type":"point","shape":"circle","filled":true,"fill":"#d21448","opacity":1,"strokeWidth":10},"encoding":{"size":{"field":"r","type":"quantitative","scale":{"type":"pow","exponent":2,"domain":[0,45],"range":[0,6362]},"legend":null},"stroke":{"field":"k","type":"quantitative","scale":{"domain":[0,1],"range":["#d21448","#000000"],"interpolate":"rgb"},"legend":null}}},
{"transform":[{"filter":"datum.s==7"}],"mark":{"type":"line","color":"#ffae80","strokeWidth":8},"encoding":{}},
{"transform":[{"filter":"datum.s==7"}],"mark":{"type":"point","shape":"circle","filled":true,"fill":"#ffae80","opacity":1,"strokeWidth":10},"encoding":{"size":{"field":"r","type":"quantitative","scale":{"type":"pow","exponent":2,"domain":[0,45],"range":[0,6362]},"legend":null},"stroke":{"field":"k","type":"quantitative","scale":{"domain":[0,1],"range":["#ffae80","#000000"],"interpolate":"rgb"},"legend":null}}},
{"transform":[{"filter":"datum.s==8"}],"mark":{"type":"line","color":"#8f2d56","strokeWidth":8},"encoding":{}},
{"transform":[{"filter":"datum.s==8"}],"mark":{"type":"point","shape":"circle","filled":true,"fill":"#8f2d56","opacity":1,"strokeWidth":10},"encoding":{"size":{"field":"r","type":"quantitative","scale":{"type":"pow","exponent":2,"domain":[0,45],"range":[0,6362]},"legend":null},"stroke":{"field":"k","type":"quantitative","scale":{"domain":[0,1],"range":["#8f2d56","#000000"],"interpolate":"rgb"},"legend":null}}},
{"transform":[{"filter":"datum.s==9"}],"mark":{"type":"line","color":"#ffacbb","strokeWidth":8},"encoding":{}},
{"transform":[{"filter":"datum.s==9"}],"mark":{"type":"point","shape":"circle","filled":true,"fill":"#ffacbb","opacity":1,"strokeWidth":10},"encoding":{"size":{"field":"r","type":"quantitative","scale":{"type":"pow","exponent":2,"domain":[0,45],"range":[0,6362]},"legend":null},"stroke":{"field":"k","type":"quantitative","scale":{"domain":[0,1],"range":["#ffacbb","#000000"],"interpolate":"rgb"},"legend":null}}}
],
"resolve":{"scale":{"stroke":"independent"}}
}
